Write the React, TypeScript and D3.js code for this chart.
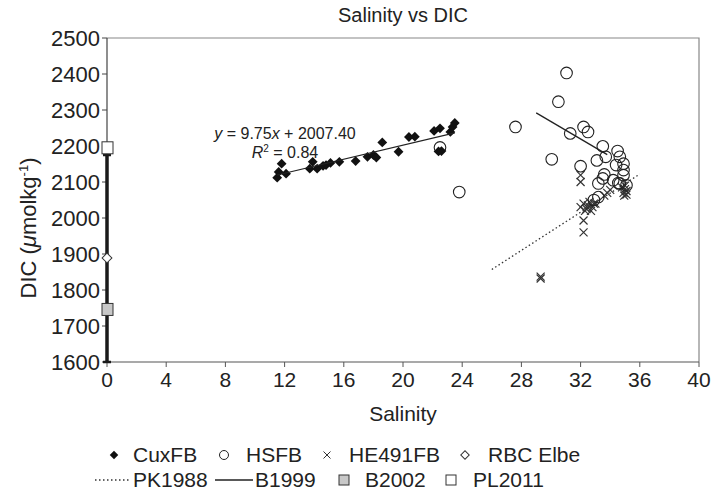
import * as d3 from 'd3';

// CuxFB (salinity, DIC)
const cuxSal = [11.5, 11.6, 11.8, 12.1, 13.7, 13.9, 14.2, 14.6, 14.8, 15.1, 15.7, 16.8, 17.6, 18.0, 18.2, 18.6, 19.7, 20.4, 20.8, 22.1, 22.4, 22.6, 22.5, 23.2, 23.35, 23.5];
const cuxDic = [2112, 2128, 2151, 2123, 2137, 2156, 2137, 2145, 2147, 2153, 2156, 2158, 2170, 2175, 2168, 2210, 2184, 2225, 2226, 2242, 2185, 2186, 2249, 2239, 2253, 2264];

// HSFB
const hsSal = [22.5, 23.8, 27.6, 30.05, 30.5, 31.05, 31.3, 32.0, 32.2, 32.5, 33.5, 33.7, 34.5, 33.1, 34.65, 34.9, 34.4, 33.6, 33.5, 33.2, 34.2, 34.55, 34.9, 34.9, 33.2, 35.1, 34.65, 32.9];
const hsDic = [2196, 2072, 2253, 2163, 2323, 2403, 2235, 2144, 2253, 2239, 2199, 2170, 2186, 2160, 2170, 2151, 2147, 2121, 2110, 2096, 2105, 2097, 2133, 2119, 2058, 2091, 2096, 2050];

// HE491FB
const heSal = [32.0, 32.0, 32.2, 32.2, 29.3, 29.3, 32.0, 32.2, 32.4, 32.5, 32.6, 32.7, 32.8, 32.9, 32.3, 32.5, 33.0, 33.6, 33.8, 34.0, 34.9, 35.0, 35.1, 35.0, 34.8, 35.1, 34.95];
const heDic = [2119, 2100, 1993, 1960, 1832, 1837, 2030, 2040, 2025, 2035, 2045, 2020, 2030, 2040, 2020, 2028, 2040, 2062, 2070, 2078, 2070, 2080, 2065, 2090, 2085, 2075, 2062];

// trend for CuxFB: y = 9.75x + 2007.40
const trendSlope = 9.75;
const trendIntercept = 2007.4;
const trendRange = [11.5, 23.5];

// literature lines
const pk1988 = [[26.0, 1857], [36.0, 2122]];
const b1999 = [[29.0, 2292], [33.8, 2176]];

// river end member values at salinity 0
const rbcRange = [1600, 2175];
const rbcElbe = 1889;
const b2002 = 1746;
const pl2011 = 2195;

const xTicks = [0, 4, 8, 12, 16, 20, 24, 28, 32, 36, 40];
const yTicks = [1600, 1700, 1800, 1900, 2000, 2100, 2200, 2300, 2400, 2500];

const W = 714;
const H = 492;
const FONT = 'Liberation Sans, Arial, Helvetica, sans-serif';

const crossPath = (s: number) => `M${-s},${-s}L${s},${s}M${-s},${s}L${s},${-s}`;

export default function App() {
  const x = d3.scaleLinear().domain([0, 40]).range([107, 699]);
  const y = d3.scaleLinear().domain([1600, 2500]).range([362, 38]);

  const diamond = d3.symbol(d3.symbolSquare, 48)();
  const line = d3.line<number[]>().x(d => x(d[0])).y(d => y(d[1]));
  const trend = trendRange.map(s => [s, trendSlope * s + trendIntercept]);

  const [x0, x1] = x.range();
  const [yb, yt] = y.range();

  return (
    <svg width={W} height={H} style={{ position: 'absolute', left: 0, top: 0, background: '#fff' }} fontFamily={FONT}>
      <text x={(x0 + x1) / 2} y={22} textAnchor="middle" fontSize={20} fill="#222">Salinity vs DIC</text>

      {/* frame */}
      <path d={`M${x0},${yt}H${x1}V${yb}`} fill="none" stroke="#888" strokeWidth={1.2} />
      <line x1={x0} x2={x1} y1={yb} y2={yb} stroke="#555" strokeWidth={1.2} />
      <line x1={x0} x2={x0} y1={yt} y2={yb} stroke="#444" strokeWidth={1.2} />

      {yTicks.map(t => (
        <g key={t}>
          <line x1={x0 - 5} x2={x0} y1={y(t)} y2={y(t)} stroke="#444" />
          <text x={x0 - 7} y={y(t)} dy="0.36em" textAnchor="end" fontSize={22} fill="#222">{t}</text>
        </g>
      ))}
      {xTicks.map(t => (
        <g key={t}>
          <line x1={x(t)} x2={x(t)} y1={yb} y2={yb + 5} stroke="#555" />
          <text x={x(t)} y={yb + 25} textAnchor="middle" fontSize={21} fill="#222">{t}</text>
        </g>
      ))}

      <text x={(x0 + x1) / 2} y={421} textAnchor="middle" fontSize={21} fill="#222">Salinity</text>
      <text transform={`translate(36,228) rotate(-90)`} textAnchor="middle" fontSize={22} fill="#222">
        DIC (<tspan fontStyle="italic">μ</tspan>molkg<tspan fontSize={13} dy={-8}>-1</tspan><tspan dy={8}>)</tspan>
      </text>

      {/* salinity 0 range bar */}
      <line x1={x(0)} x2={x(0)} y1={y(rbcRange[0])} y2={y(rbcRange[1])} stroke="#1a1a1a" strokeWidth={3.5} />
      {rbcRange.map(v => (
        <line key={v} x1={x(0) - 4} x2={x(0) + 4} y1={y(v)} y2={y(v)} stroke="#1a1a1a" strokeWidth={2.5} />
      ))}
      <rect x={x(0) - 5} y={y(b2002) - 6} width={11} height={12} fill="#c8c8c8" stroke="#333" strokeWidth={1} />
      <rect x={x(0) - 5} y={y(pl2011) - 6} width={11} height={12} fill="#fff" stroke="#333" strokeWidth={1} />
      <path d={diamond!} transform={`translate(${x(0)},${y(rbcElbe)}) rotate(45)`} fill="#fff" stroke="#333" strokeWidth={1} />

      {/* lines */}
      <path d={line(pk1988)!} fill="none" stroke="#333" strokeWidth={1.3} strokeDasharray="1.5,2.5" />
      <path d={line(b1999)!} fill="none" stroke="#222" strokeWidth={1.3} />

      {/* HE491FB */}
      {heSal.map((s, i) => (
        <path key={i} d={crossPath(4)} transform={`translate(${x(s)},${y(heDic[i])})`} stroke="#333" strokeWidth={1.2} fill="none" />
      ))}
      {/* HSFB */}
      {hsSal.map((s, i) => (
        <circle key={i} cx={x(s)} cy={y(hsDic[i])} r={5.8} fill="none" stroke="#222" strokeWidth={1.1} />
      ))}
      {/* CuxFB */}
      {cuxSal.map((s, i) => (
        <path key={i} d={diamond!} transform={`translate(${x(s)},${y(cuxDic[i])}) rotate(45)`} fill="#111" />
      ))}
      <path d={line(trend)!} fill="none" stroke="#222" strokeWidth={1.1} />

      <text x={285} y={139} textAnchor="middle" fontSize={16} fill="#222">
        <tspan fontStyle="italic">y</tspan> = 9.75<tspan fontStyle="italic">x</tspan> + 2007.40
      </text>
      <text x={285} y={158} textAnchor="middle" fontSize={16} fill="#222">
        <tspan fontStyle="italic">R</tspan><tspan fontSize={10} dy={-6}>2</tspan><tspan dy={6}> = 0.84</tspan>
      </text>

      {/* legend row 1 */}
      <g fontSize={21} fill="#222">
        <path d={d3.symbol(d3.symbolSquare, 36)()!} transform="translate(114,455) rotate(45)" fill="#111" />
        <text x={133} y={462}>CuxFB</text>
        <circle cx={224} cy={455} r={4.5} fill="none" stroke="#222" strokeWidth={1} />
        <text x={246} y={462}>HSFB</text>
        <path d={crossPath(3.5)} transform="translate(327,455)" stroke="#333" strokeWidth={1} fill="none" />
        <text x={349} y={462}>HE491FB</text>
        <path d={d3.symbol(d3.symbolSquare, 36)()!} transform="translate(465,455) rotate(45)" fill="#fff" stroke="#333" strokeWidth={1} />
        <text x={488} y={462}>RBC Elbe</text>

        {/* legend row 2 */}
        <line x1={95} x2={130} y1={480} y2={480} stroke="#333" strokeWidth={1.3} strokeDasharray="1.5,2.5" />
        <text x={133} y={487}>PK1988</text>
        <line x1={215} x2={253} y1={480} y2={480} stroke="#222" strokeWidth={1.3} />
        <text x={255} y={487}>B1999</text>
        <rect x={339} y={475} width={10} height={10} fill="#c8c8c8" stroke="#333" strokeWidth={1} />
        <text x={365} y={487}>B2002</text>
        <rect x={446} y={475} width={10} height={10} fill="#fff" stroke="#333" strokeWidth={1} />
        <text x={473} y={487}>PL2011</text>
      </g>
    </svg>
  );
}
